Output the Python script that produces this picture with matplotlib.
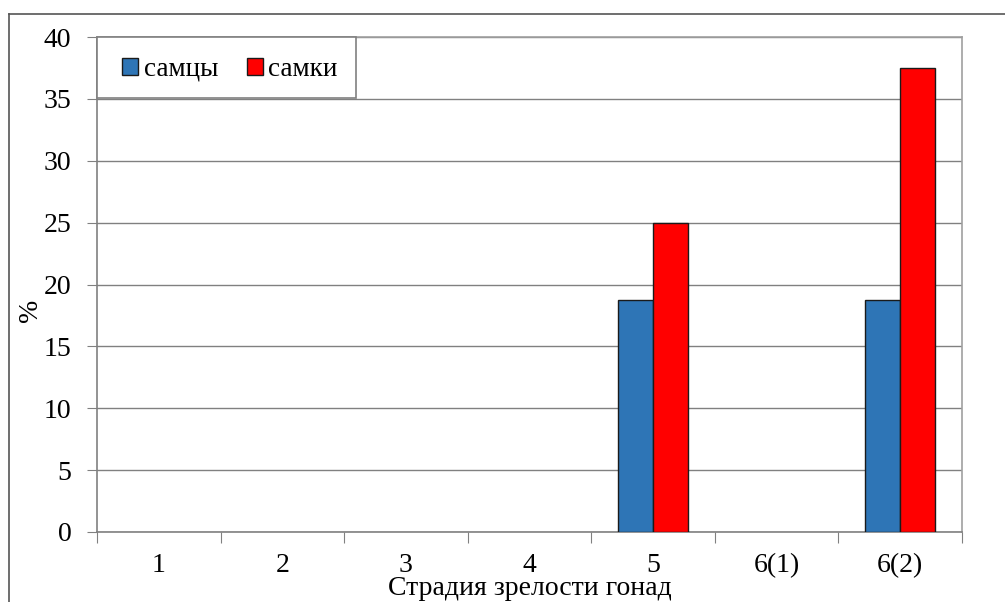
import numpy as np
import matplotlib
matplotlib.use('Agg')
import matplotlib.pyplot as plt
from matplotlib.lines import Line2D
from matplotlib.patches import Rectangle

plt.rcParams['font.family'] = ['Liberation Serif', 'DejaVu Serif']

# stages of gonad maturity and share of fish (%)
stages = ['1', '2', '3', '4', '5', '6(1)', '6(2)']
males = [0, 0, 0, 0, 18.75, 0, 18.75]
females = [0, 0, 0, 0, 25, 0, 37.5]

fig = plt.figure(figsize=(10.05, 6.02), dpi=100)
ax = fig.add_axes([0.0965, 0.1163, 0.8605, 0.8222])

x = np.arange(len(stages)) + 0.5
w = 0.285
# zero bars get no outline so they don't draw a stray line on the axis
ax.bar(x - w / 2, males, width=w, color='#2e75b6', edgecolor='#1a1a1a',
       linewidth=[1 if v else 0 for v in males], label='самцы', zorder=3)
ax.bar(x + w / 2, females, width=w, color='#ff0000', edgecolor='#1a1a1a',
       linewidth=[1 if v else 0 for v in females], label='самки', zorder=3)

ax.set_xlim(0, len(stages))
ax.set_ylim(0, 40)
ax.set_yticks(np.arange(0, 41, 5))
ax.yaxis.grid(True, color='#808080', linewidth=1)
ax.set_axisbelow(True)

# category boundaries as major ticks, labels at centres
ax.set_xticks(np.arange(len(stages) + 1))
ax.set_xticklabels([])
ax.set_xticks(x, minor=True)
ax.set_xticklabels(stages, minor=True)
ax.tick_params(axis='x', which='minor', length=0, pad=15, labelsize=20)
ax.tick_params(axis='x', which='major', length=8, color='#808080', direction='out')
ax.tick_params(axis='y', length=7, color='#808080', direction='out', pad=11.5, labelsize=20)

for s in ax.spines.values():
    s.set_color('#a0a0a0')
    s.set_linewidth(1.2)
ax.spines['bottom'].set_color('#808080')
ax.spines['left'].set_color('#808080')

ax.set_xlabel('Страдия зрелости гонад', fontsize=20, va='baseline')
ax.xaxis.set_label_coords(0.5, -0.1283)
ax.set_ylabel('%', fontsize=20)
ax.yaxis.set_label_coords(-0.0624, 0.448)

# legend box drawn by hand so its size matches the original
ax.add_patch(Rectangle((0, 0.877), 0.2994, 0.123, transform=ax.transAxes, facecolor='white',
                       edgecolor='#808080', linewidth=1.2, zorder=4, clip_on=False))
leg = ax.legend(loc='center left', bbox_to_anchor=(0.029, 0.935), ncol=2, fontsize=19.5,
                frameon=False, borderaxespad=0, borderpad=0, handlelength=0.6,
                handleheight=0.6, handletextpad=0.2, columnspacing=1.05)
leg.set_zorder(5)
for h in leg.legend_handles:
    h.set_edgecolor('#1a1a1a')
    h.set_linewidth(1)

# outer chart border (top and left)
fig.add_artist(Line2D([9 / 1005, 1], [1 - 14 / 602, 1 - 14 / 602], color='#555555', linewidth=1.2))
fig.add_artist(Line2D([9 / 1005, 9 / 1005], [0, 1 - 14 / 602], color='#555555', linewidth=1.2))

fig.savefig('out.png', dpi=100)
